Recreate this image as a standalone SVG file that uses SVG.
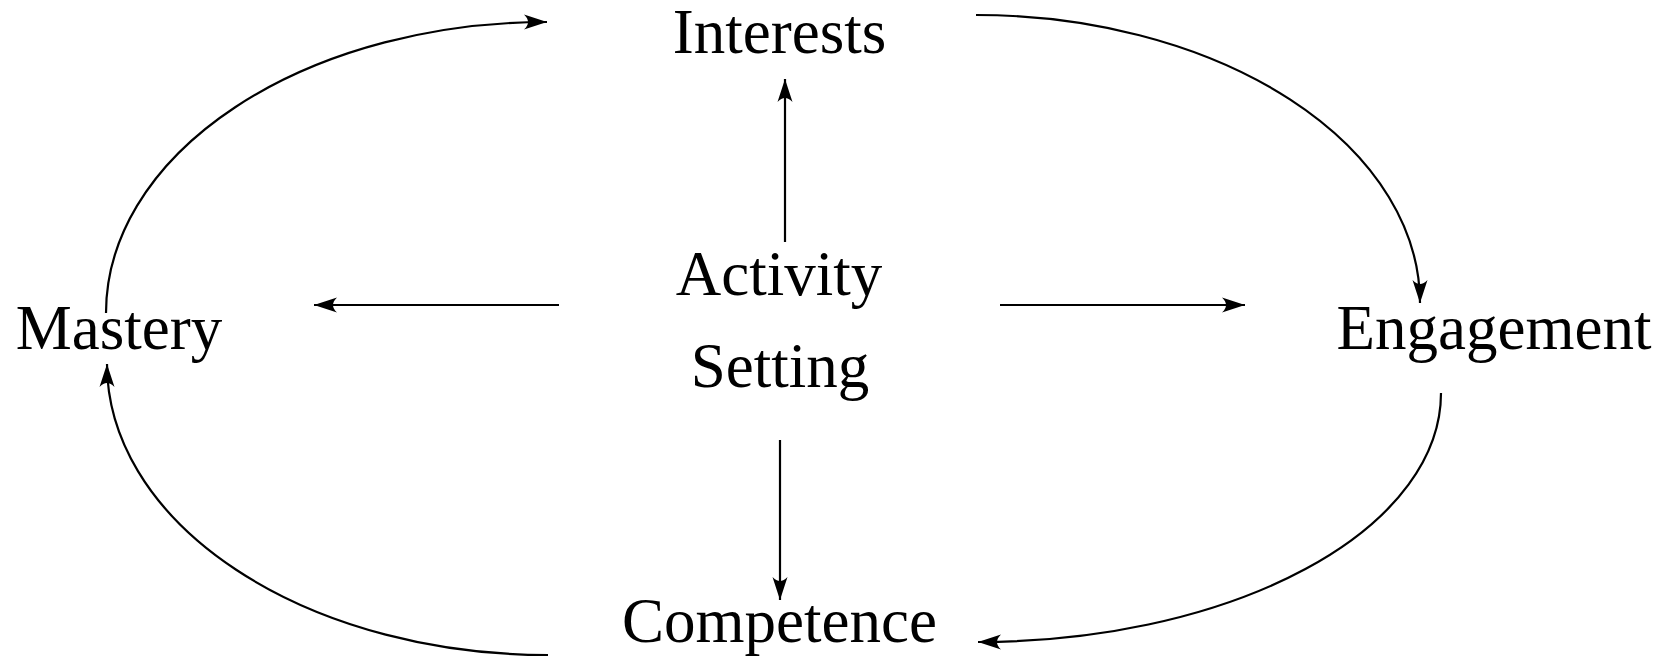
<svg xmlns="http://www.w3.org/2000/svg" width="1664" height="659" viewBox="0 0 1664 659">
  <style>
    .label { font-family: "Liberation Serif", "Times New Roman", serif; font-size: 63px; fill: #000; text-anchor: middle; }
    .edge { fill: none; stroke: #000; stroke-width: 2.2; marker-end: url(#head); }
  </style>
  <defs>
    <marker id="head" markerUnits="userSpaceOnUse" markerWidth="30" markerHeight="20" viewBox="-24 -10 26 20" refX="0" refY="0" orient="auto" overflow="visible">
      <path d="M0,0 L-23,-7.5 Q-15,0 -23,7.5 Z" fill="#000"/>
    </marker>
  </defs>

  <rect width="1664" height="659" fill="#fff"/>

  <g id="connectors">
    <!-- central hub to the four outcomes -->
    <path class="edge" d="M785,242 L785,79"/>
    <path class="edge" d="M780,440 L780,600"/>
    <path class="edge" d="M559,305 L314,305"/>
    <path class="edge" d="M1000,305 L1245,305"/>
    <!-- outer cycle -->
    <path class="edge" d="M976,15 A444,288 0 0 1 1420,303"/>
    <path class="edge" d="M1441,393 A463,249 0 0 1 978,642"/>
    <path class="edge" d="M548,655 A441,291 0 0 1 107,364"/>
    <path class="edge" d="M106,313 A441,291 0 0 1 547,22"/>
  </g>

  <g id="node-interests">
    <text class="label" x="779.5" y="53">Interests</text>
  </g>
  <g id="node-activity-setting">
    <text class="label" x="779" y="295">Activity</text>
    <text class="label" x="780" y="387">Setting</text>
  </g>
  <g id="node-mastery">
    <text class="label" x="119" y="349">Mastery</text>
  </g>
  <g id="node-engagement">
    <text class="label" x="1494" y="349">Engagement</text>
  </g>
  <g id="node-competence">
    <text class="label" x="779.5" y="642">Competence</text>
  </g>
</svg>
